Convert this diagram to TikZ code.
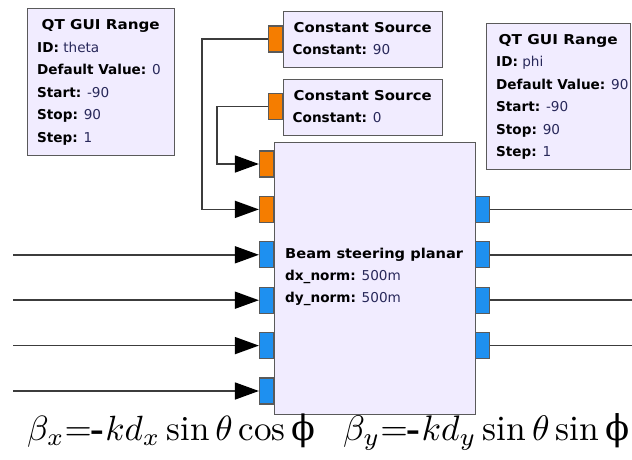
\documentclass[tikz,border=0pt]{standalone}
\usepackage{fontspec}
\usepackage{graphicx}
\newfontfamily\gr{DejaVu Sans}
\newfontfamily\phifont{DejaVu Serif}
\usetikzlibrary{arrows.meta}
\definecolor{lav}{RGB}{241,236,255}
\definecolor{edge}{RGB}{90,90,90}
\definecolor{forange}{RGB}{245,125,0}
\definecolor{cblue}{RGB}{30,144,240}
\definecolor{val}{RGB}{40,40,90}
\definecolor{wirec}{RGB}{60,60,60}
\newcommand\pkv[2]{\textbf{#1:} \textcolor{val}{#2}}
\newcommand\ptitle[2]{\resizebox{#1}{\height}{\textbf{#2}}}
\begin{document}
\begin{tikzpicture}[x=1pt,y=-1pt,
  blockbox/.style={draw=edge, fill=lav, line width=1.3pt, inner sep=0pt, rectangle},
  fport/.style={draw=edge, fill=forange, line width=1.1pt, minimum width=14pt, minimum height=26pt, inner sep=0pt},
  bport/.style={draw=edge, fill=cblue, line width=1.1pt, minimum width=14pt, minimum height=26pt, inner sep=0pt},
  lbl/.style={font=\gr\fontsize{13.6}{22.5}\selectfont, align=left, inner sep=0pt, text=black},
  wire/.style={draw=wirec, line width=1.6pt},
  arr/.style={wire, -{Triangle[length=24pt,width=17pt,color=black]}},
]
\useasboundingbox (0,0) rectangle (632,460);

% QT GUI Range theta
\node[blockbox, minimum width=147pt, minimum height=147pt, anchor=north west] (theta) at (27,8) {};
\node[lbl, anchor=west] (thetatxt) at ([xshift=10pt]theta.west)
 {\makebox[127pt][c]{\ptitle{118pt}{QT GUI Range}}\\ \pkv{ID}{theta}\\ \pkv{Default Value}{0}\\ \pkv{Start}{-90}\\ \pkv{Stop}{90}\\ \pkv{Step}{1}};

% QT GUI Range phi
\node[blockbox, minimum width=144pt, minimum height=146pt, anchor=north west] (phi) at (486,23) {};
\node[lbl, anchor=west] (phitxt) at ([xshift=10pt]phi.west)
 {\makebox[124pt][c]{\ptitle{119pt}{QT GUI Range}}\\ \pkv{ID}{phi}\\ \pkv{Default Value}{90}\\ \pkv{Start}{-90}\\ \pkv{Stop}{90}\\ \pkv{Step}{1}};

% Constant sources
\node[blockbox, minimum width=159pt, minimum height=56pt, anchor=north west] (c1) at (283,11) {};
\node[lbl, anchor=west] (c1txt) at ([xshift=9.5pt,yshift=1pt]c1.west)
 {\makebox[140pt][c]{\ptitle{138pt}{Constant Source}}\\ \pkv{Constant}{90}};
\node[fport, anchor=east] (c1p) at (283,39) {};

\node[blockbox, minimum width=159pt, minimum height=56pt, anchor=north west] (c2) at (283,79) {};
\node[lbl, anchor=west] (c2txt) at ([xshift=9.5pt,yshift=1pt]c2.west)
 {\makebox[140pt][c]{\ptitle{138pt}{Constant Source}}\\ \pkv{Constant}{0}};
\node[fport, anchor=east] (c2p) at (283,106.5) {};

% Beam steering planar
\node[blockbox, minimum width=201pt, minimum height=272pt, anchor=north west] (bsp) at (274,142) {};
\node[lbl, anchor=west] (bsptxt) at ([xshift=11pt,yshift=2pt]bsp.west)
 {\ptitle{178pt}{Beam steering planar}\\[-0.5pt] \pkv{dx\_norm}{500m}\\[-0.5pt] \pkv{dy\_norm}{500m}};

% input ports
\node[fport, anchor=east] (in1) at (274,164) {};
\node[fport, anchor=east] (in2) at (274,209.4) {};
\node[bport, anchor=east] (in3) at (274,254.8) {};
\node[bport, anchor=east] (in4) at (274,300.2) {};
\node[bport, anchor=east] (in5) at (274,345.6) {};
\node[bport, anchor=east] (in6) at (274,391) {};

% output ports
\node[bport, anchor=west] (out1) at (475,209.4) {};
\node[bport, anchor=west] (out2) at (475,254.8) {};
\node[bport, anchor=west] (out3) at (475,300.2) {};
\node[bport, anchor=west] (out4) at (475,345.6) {};

% free ends
\coordinate (l3) at (13,254.8);
\coordinate (l4) at (13,300.2);
\coordinate (l5) at (13,345.6);
\coordinate (l6) at (13,391);
\coordinate (r1) at (632,209.4);
\coordinate (r2) at (632,254.8);
\coordinate (r3) at (632,300.2);
\coordinate (r4) at (632,345.6);

% wires
\draw[arr] (c1p.west) -| ([xshift=-57pt]in2.west) -- (in2.west);
\draw[arr] (c2p.west) -| ([xshift=-42pt]in1.west) -- (in1.west);
\draw[arr] (l3) -- (in3.west);
\draw[arr] (l4) -- (in4.west);
\draw[arr] (l5) -- (in5.west);
\draw[arr] (l6) -- (in6.west);
\draw[wire] (out1.east) -- (r1);
\draw[wire] (out2.east) -- (r2);
\draw[wire] (out3.east) -- (r3);
\draw[wire] (out4.east) -- (r4);

% formulas
\node[anchor=base west, inner sep=0pt] (bx) at (27,440)
 {\resizebox{288pt}{!}{$\beta_x{=}\mbox{\bfseries -}kd_x\sin\theta\cos\mbox{\phifont ϕ}$}};
\node[anchor=base west, inner sep=0pt] (by) at (343,440)
 {\resizebox{286pt}{!}{$\beta_y{=}\mbox{\bfseries -}kd_y\sin\theta\sin\mbox{\phifont ϕ}$}};
\end{tikzpicture}
\end{document}
